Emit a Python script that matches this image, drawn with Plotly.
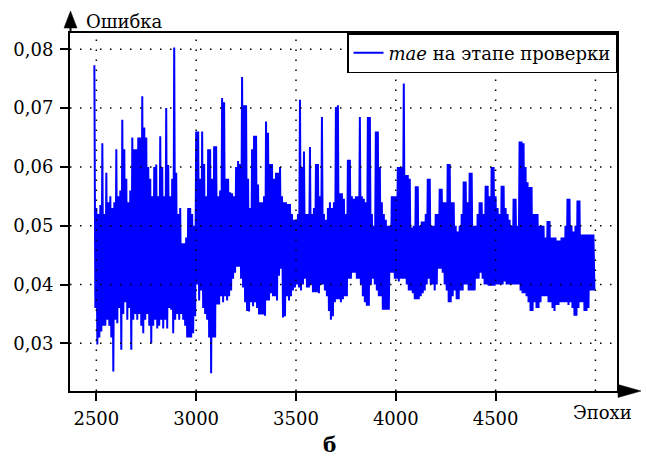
import plotly.graph_objects as go

# ---- data: per 10-epoch bin, top and bottom of the trace ----
bin_start = 2490
bin_width = 10
upper = [
    0.0773, 0.053, 0.052, 0.0535, 0.064, 0.052, 0.059, 0.054, 0.055, 0.053,
    0.054, 0.063, 0.055, 0.056, 0.068, 0.063, 0.058, 0.054, 0.056, 0.065,
    0.063, 0.063, 0.065, 0.065, 0.072, 0.0667, 0.065, 0.060, 0.058, 0.055,
    0.060, 0.0604, 0.055, 0.0652, 0.060, 0.055, 0.070, 0.0603, 0.055, 0.058,
    0.0803, 0.059, 0.052, 0.053, 0.047, 0.047, 0.048, 0.053, 0.053, 0.052,
    0.050, 0.066, 0.066, 0.058, 0.066, 0.0605, 0.055, 0.063, 0.063, 0.058,
    0.0635, 0.0635, 0.055, 0.056, 0.0717, 0.071, 0.058, 0.058, 0.0557, 0.0555,
    0.055, 0.060, 0.061, 0.0605, 0.0753, 0.0705, 0.0705, 0.058, 0.053, 0.063,
    0.0653, 0.0653, 0.057, 0.054, 0.054, 0.055, 0.0677, 0.0658, 0.0605, 0.0605,
    0.058, 0.059, 0.059, 0.060, 0.055, 0.054, 0.054, 0.0537, 0.0537, 0.052,
    0.051, 0.051, 0.052, 0.0714, 0.060, 0.0626, 0.052, 0.052, 0.0634, 0.052,
    0.053, 0.0605, 0.0605, 0.055, 0.0685, 0.052, 0.051, 0.053, 0.054, 0.053,
    0.054, 0.0702, 0.0705, 0.0555, 0.0555, 0.0546, 0.052, 0.0612, 0.0612, 0.055,
    0.0546, 0.055, 0.055, 0.0685, 0.055, 0.0546, 0.054, 0.0685, 0.0685, 0.052,
    0.050, 0.066, 0.066, 0.060, 0.054, 0.052, 0.051, 0.050, 0.050, 0.055,
    0.055, 0.055, 0.060, 0.060, 0.060, 0.0742, 0.0586, 0.0586, 0.058, 0.0497,
    0.050, 0.0567, 0.0567, 0.050, 0.0507, 0.0507, 0.052, 0.058, 0.058, 0.050,
    0.050, 0.052, 0.052, 0.0563, 0.0563, 0.054, 0.054, 0.0605, 0.0605, 0.054,
    0.054, 0.050, 0.049, 0.050, 0.052, 0.0575, 0.0575, 0.054, 0.059, 0.059,
    0.050, 0.050, 0.052, 0.054, 0.054, 0.052, 0.0568, 0.0568, 0.055, 0.060,
    0.060, 0.055, 0.053, 0.052, 0.0568, 0.0568, 0.053, 0.052, 0.051, 0.050,
    0.0546, 0.0546, 0.050, 0.0643, 0.0643, 0.064, 0.060, 0.0574, 0.0566, 0.0566,
    0.052, 0.052, 0.052, 0.050, 0.050, 0.050, 0.048, 0.0508, 0.0508, 0.048,
    0.048, 0.048, 0.0475, 0.0475, 0.048, 0.048, 0.050, 0.0546, 0.0546, 0.050,
    0.049, 0.050, 0.0543, 0.0543, 0.0485, 0.0485, 0.0485, 0.0485, 0.0485, 0.0485,
    0.0485,
]
lower = [
    0.036, 0.0298, 0.031, 0.032, 0.033, 0.033, 0.034, 0.033, 0.031, 0.0252,
    0.034, 0.0334, 0.036, 0.0289, 0.035, 0.037, 0.034, 0.036, 0.0289, 0.034,
    0.035, 0.034, 0.035, 0.033, 0.0317, 0.034, 0.035, 0.033, 0.030, 0.033,
    0.034, 0.0325, 0.033, 0.034, 0.0325, 0.034, 0.0325, 0.036, 0.0357, 0.0317,
    0.034, 0.035, 0.034, 0.035, 0.034, 0.033, 0.031, 0.031, 0.031, 0.0317,
    0.0346, 0.040, 0.0373, 0.039, 0.036, 0.035, 0.034, 0.031, 0.0249, 0.031,
    0.031, 0.0366, 0.0366, 0.038, 0.037, 0.038, 0.0373, 0.038, 0.039, 0.041,
    0.042, 0.043, 0.043, 0.041, 0.0395, 0.037, 0.0355, 0.0354, 0.037, 0.0363,
    0.037, 0.036, 0.0349, 0.0349, 0.0349, 0.0347, 0.0373, 0.0373, 0.0385, 0.038,
    0.038, 0.0373, 0.0415, 0.0427, 0.0344, 0.0346, 0.038, 0.0373, 0.038, 0.039,
    0.0395, 0.040, 0.0395, 0.039, 0.040, 0.041, 0.0395, 0.0395, 0.040, 0.0387,
    0.0387, 0.0387, 0.0385, 0.040, 0.040, 0.039, 0.038, 0.0355, 0.034, 0.0346,
    0.037, 0.0375, 0.0375, 0.037, 0.0375, 0.038, 0.038, 0.041, 0.041, 0.042,
    0.042, 0.041, 0.041, 0.040, 0.038, 0.037, 0.0364, 0.0364, 0.040, 0.041,
    0.040, 0.039, 0.038, 0.038, 0.0357, 0.0357, 0.0357, 0.0357, 0.042, 0.042,
    0.041, 0.041, 0.0405, 0.041, 0.041, 0.041, 0.040, 0.039, 0.039, 0.0385,
    0.0375, 0.0375, 0.0375, 0.038, 0.0385, 0.039, 0.040, 0.041, 0.040, 0.040,
    0.039, 0.040, 0.0427, 0.0427, 0.042, 0.040, 0.039, 0.037, 0.037, 0.038,
    0.039, 0.0375, 0.0375, 0.039, 0.039, 0.040, 0.040, 0.039, 0.039, 0.039,
    0.039, 0.041, 0.041, 0.042, 0.041, 0.040, 0.040, 0.0398, 0.0398, 0.0398,
    0.0398, 0.040, 0.040, 0.040, 0.040, 0.0405, 0.040, 0.040, 0.040, 0.040,
    0.040, 0.040, 0.040, 0.039, 0.0385, 0.0385, 0.038, 0.037, 0.0355, 0.0355,
    0.037, 0.036, 0.036, 0.037, 0.038, 0.038, 0.038, 0.037, 0.037, 0.036,
    0.0355, 0.0365, 0.0365, 0.037, 0.037, 0.037, 0.037, 0.0365, 0.037, 0.036,
    0.0347, 0.0347, 0.036, 0.037, 0.037, 0.0355, 0.0355, 0.036, 0.039, 0.039,
    0.039,
]

# the dense line visits both extremes inside each bin
epochs, mae = [], []
for i, (hi, lo) in enumerate(zip(upper, lower)):
    e0 = bin_start + bin_width * i
    epochs += [e0, e0 + bin_width / 2]
    mae += [hi, lo]

x_tickvals = [2500, 3000, 3500, 4000, 4500]
x_ticktext = ["2500", "3000", "3500", "4000", "4500"]
x_gridvals = [2500, 3000, 3500, 4000, 4500, 5000]
y_tickvals = [0.03, 0.04, 0.05, 0.06, 0.07, 0.08]
y_ticktext = ["0,03", "0,04", "0,05", "0,06", "0,07", "0,08"]

series_name = "<i>mae</i> на этапе проверки"

# ---- layout geometry (pixels) ----
W, H = 646, 459
L, R, T, B = 70, 29, 33, 68
PW, PH = W - L - R, H - T - B
FONT = "DejaVu Serif"
FS = 18


def px(xp):
    return (xp - L) / PW


def py(yp):
    return (H - B - yp) / PH


fig = go.Figure()
fig.add_trace(go.Scatter(
    x=epochs, y=mae, mode="lines", name=series_name,
    line=dict(color="#0000ff", width=2),
    showlegend=True,
))

shapes = []
for gv in x_gridvals:
    shapes.append(dict(type="line", xref="x", yref="paper", x0=gv, x1=gv, y0=0, y1=1,
                       line=dict(color="black", width=1.5, dash="1.5px,8.5px"), layer="above"))
for gv in y_tickvals:
    shapes.append(dict(type="line", xref="paper", yref="y", x0=0, x1=1, y0=gv, y1=gv,
                       line=dict(color="black", width=1.5, dash="1.5px,8.5px"), layer="above"))
shapes.append(dict(type="line", xref="paper", yref="paper", x0=px(70.5), x1=px(70.5),
                   y0=py(33), y1=py(27), line=dict(color="black", width=2)))
shapes.append(dict(type="path", xref="paper", yref="paper",
                   path=f"M{px(64)},{py(28)} L{px(70.5)},{py(11)} L{px(77)},{py(28)} Z",
                   fillcolor="black", line=dict(color="black", width=0.5)))
shapes.append(dict(type="path", xref="paper", yref="paper",
                   path=f"M{px(618)},{py(384.5)} L{px(641)},{py(391)} L{px(618)},{py(397.5)} Z",
                   fillcolor="black", line=dict(color="black", width=0.5)))

fig.update_layout(
    width=W, height=H, autosize=False,
    margin=dict(l=L, r=R, t=T, b=B, pad=0, autoexpand=False),
    paper_bgcolor="white", plot_bgcolor="white",
    font=dict(family=FONT, size=FS, color="black"),
    shapes=shapes,
    showlegend=True,
    legend=dict(x=1, y=1, xanchor="right", yanchor="top",
                bgcolor="white", bordercolor="black", borderwidth=1.5,
                font=dict(family=FONT, size=FS, color="black"),
                itemwidth=30),
    xaxis=dict(range=[2368, 5108], tickvals=x_tickvals, ticktext=x_ticktext,
               showgrid=False, zeroline=False, automargin=False,
               showline=True, linecolor="black", linewidth=2, mirror=True,
               ticks="outside", ticklen=8, tickwidth=2, tickcolor="black",
               ticklabelstandoff=2,
               tickfont=dict(family=FONT, size=FS, color="black")),
    yaxis=dict(range=[0.02189, 0.08277], tickvals=y_tickvals, ticktext=y_ticktext,
               showgrid=False, zeroline=False, automargin=False,
               showline=True, linecolor="black", linewidth=2, mirror=True,
               ticks="outside", ticklen=8, tickwidth=2, tickcolor="black",
               ticklabelstandoff=3,
               tickfont=dict(family=FONT, size=FS, color="black")),
    annotations=[
        dict(text="Ошибка", xref="paper", yref="paper", x=px(84), y=py(22),
             xanchor="left", yanchor="middle", showarrow=False,
             font=dict(family=FONT, size=FS, color="black")),
        dict(text="Эпохи", xref="paper", yref="paper", x=px(634), y=py(412),
             xanchor="right", yanchor="middle", showarrow=False,
             font=dict(family=FONT, size=FS, color="black")),
        dict(text="<b>б</b>", xref="paper", yref="paper", x=px(329), y=py(445),
             xanchor="center", yanchor="middle", showarrow=False,
             font=dict(family=FONT, size=20, color="black")),
    ],
)

fig.write_html("out.html")
